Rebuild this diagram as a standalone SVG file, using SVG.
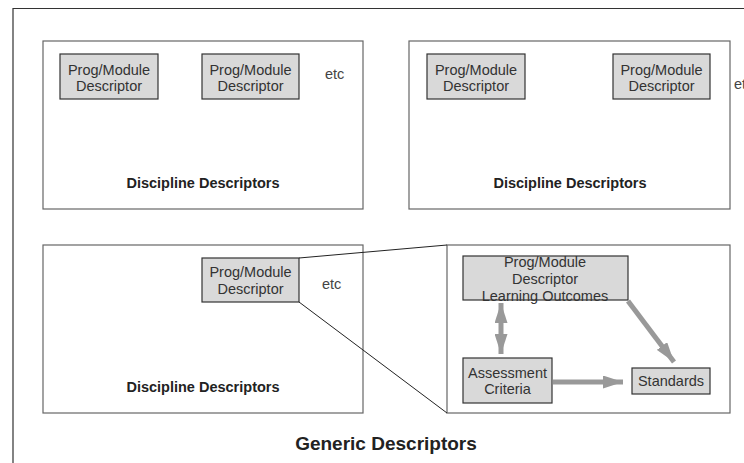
<svg xmlns="http://www.w3.org/2000/svg" width="744" height="463" viewBox="0 0 744 463">
<style>
text{font-family:"Liberation Sans",Arial,sans-serif;}
.t{font-size:14.5px;fill:#333;text-anchor:middle;}
.etc{font-size:14.5px;fill:#444;}
.b{font-size:14.5px;font-weight:bold;fill:#222;text-anchor:middle;}
.g{font-size:19px;font-weight:bold;fill:#222;text-anchor:middle;}
.box{fill:#fff;stroke:#666;stroke-width:1.2;}
.node{fill:#d9d9d9;stroke:#333;stroke-width:1.2;}
.zl{stroke:#222;stroke-width:1;fill:none;}
.ar{stroke:#999;stroke-width:5;fill:none;}
</style>
<defs>
<marker id="ah" markerUnits="userSpaceOnUse" markerWidth="20" markerHeight="13" refX="20" refY="6.5" orient="auto-start-reverse">
<path d="M0,0 L20,6.5 L0,13 Z" fill="#999"/>
</marker>
</defs>
<g id="frame">
<path d="M13,463 L13,8.5 L744,8.5" fill="none" stroke="#333" stroke-width="1.2"/>
</g>
<g id="discipline1">
<rect class="box" x="43" y="41" width="320" height="168"/>
<text class="b" x="203" y="188">Discipline Descriptors</text>
<text class="etc" x="325" y="79">etc</text>
</g>
<g id="nodeA">
<rect class="node" x="60" y="54" width="98" height="45"/>
<text class="t" x="109" y="75">Prog/Module</text>
<text class="t" x="109" y="91">Descriptor</text>
</g>
<g id="nodeB">
<rect class="node" x="202" y="54" width="97" height="45"/>
<text class="t" x="250.5" y="75">Prog/Module</text>
<text class="t" x="250.5" y="91">Descriptor</text>
</g>
<g id="discipline2">
<rect class="box" x="409" y="41" width="321" height="168"/>
<text class="b" x="570" y="188">Discipline Descriptors</text>
<text class="etc" x="734" y="89">etc</text>
</g>
<g id="nodeC">
<rect class="node" x="427" y="54" width="98" height="45"/>
<text class="t" x="476" y="75">Prog/Module</text>
<text class="t" x="476" y="91">Descriptor</text>
</g>
<g id="nodeD">
<rect class="node" x="613" y="54" width="97" height="45"/>
<text class="t" x="661.5" y="75">Prog/Module</text>
<text class="t" x="661.5" y="91">Descriptor</text>
</g>
<g id="discipline3">
<rect class="box" x="43" y="245" width="320" height="168"/>
<text class="b" x="203" y="392">Discipline Descriptors</text>
<text class="etc" x="322" y="289">etc</text>
</g>
<g id="nodeE">
<rect class="node" x="202" y="258" width="97" height="44"/>
<text class="t" x="250.5" y="277">Prog/Module</text>
<text class="t" x="250.5" y="294">Descriptor</text>
</g>
<g id="detail">
<rect class="box" x="447" y="245" width="283" height="168"/>
</g>
<g id="nodeF">
<rect class="node" x="463" y="256" width="165" height="44"/>
<text class="t" x="545" y="267">Prog/Module</text>
<text class="t" x="545" y="284">Descriptor</text>
<text class="t" x="545" y="301">Learning Outcomes</text>
</g>
<g id="nodeG">
<rect class="node" x="463" y="358" width="89" height="45"/>
<text class="t" x="507.5" y="378">Assessment</text>
<text class="t" x="507.5" y="394">Criteria</text>
</g>
<g id="nodeH">
<rect class="node" x="632" y="368" width="78" height="26"/>
<text class="t" x="671" y="386">Standards</text>
</g>
<g id="connectors">
<path class="zl" d="M299,258 L447,245"/>
<path class="zl" d="M299,302 L447,413"/>
<path class="ar" d="M501,303 L501,354" marker-start="url(#ah)" marker-end="url(#ah)"/>
<path class="ar" d="M553,382 L623,382" marker-end="url(#ah)"/>
<path class="ar" d="M628,301 L674,362" marker-end="url(#ah)"/>
</g>
<g id="title">
<text class="g" x="386" y="450">Generic Descriptors</text>
</g>
</svg>
